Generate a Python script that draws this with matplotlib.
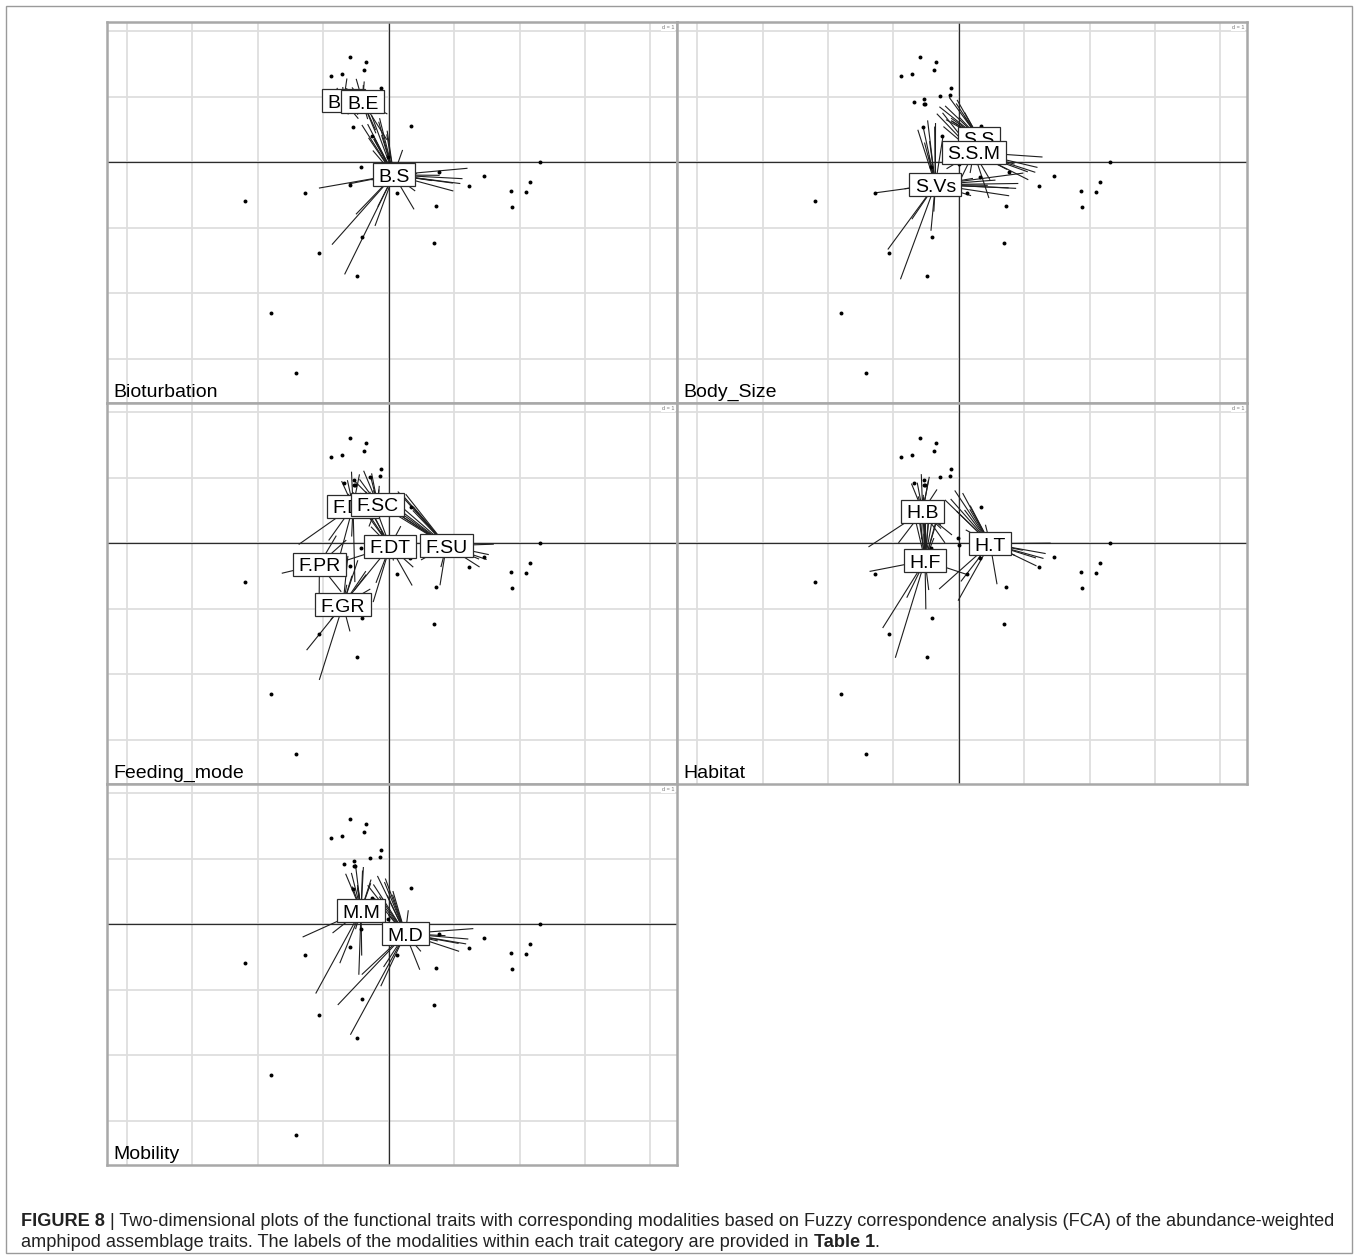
import matplotlib
matplotlib.use("Agg")
import matplotlib.pyplot as plt
from matplotlib.patches import Rectangle
from matplotlib import transforms

plt.rcParams['font.family'] = ['Liberation Sans', 'DejaVu Sans']

# species scores on FCA axes 1 and 2 (same cloud in every panel)
sp_x = [-0.592, -0.352, -0.378, -0.888, -0.714, -0.122, -0.133, -0.291, -0.684, -0.531,
        -0.531, -0.515, -0.551, -0.250, 0.342, 2.316, 0.776, 1.464, 1.230, 1.867,
        2.097, 2.163, 1.883, 0.719, 0.689, 0.332, 0.122, -1.281, -2.194, -0.403,
        -1.066, -0.490, -1.801, -1.418, -0.429, -0.587, -0.010, 0.000]
sp_y = [1.607, 1.526, 1.418, 1.321, 1.347, 1.143, 1.031, 1.010, 0.929, 0.974,
        0.898, 0.888, 0.541, 0.408, 0.556, 0.010, -0.153, -0.204, -0.362, -0.439,
        -0.454, -0.306, -0.679, -0.673, -1.230, -0.224, -0.464, -0.464, -0.592, -1.148,
        -1.383, -1.735, -2.311, -3.219, -0.066, -0.342, 0.077, -0.026]

# Bioturbation
bio_mod = ["B.D", "B.E", "B.S"]
bio_x = [-0.689, -0.398, 0.077]
bio_y = [0.939, 0.929, -0.194]
bio_sp = [[0, 3, 4, 9, 12, 13],
          [0, 1, 2, 3, 4, 5, 6, 7, 8, 9, 10, 11, 12, 13, 14, 25, 36, 37],
          [0, 1, 2, 3, 4, 5, 6, 7, 8, 9, 10, 11, 12, 13, 14, 15, 16, 17, 18, 19, 20,
           21, 22, 23, 24, 25, 26, 27, 28, 29, 30, 31, 32, 33, 34, 35]]

# Body size
size_mod = ["S.S", "S.S.M", "S.Vs"]
size_x = [0.311, 0.230, -0.357]
size_y = [0.367, 0.153, -0.342]
size_sp = [[0, 1, 2, 3, 4, 5, 6, 7, 8, 9, 10, 11],
           [3, 4, 8, 13, 14, 15, 16, 17, 18, 19, 20, 21, 22, 23, 24, 25, 26, 29, 34, 35],
           [0, 1, 2, 3, 4, 5, 8, 9, 12, 15, 16, 17, 18, 19, 20, 21, 22, 23, 25, 26,
            27, 28, 29, 30, 31, 32, 33, 35]]

# Feeding mode
feed_mod = ["F.DF", "F.SC", "F.DT", "F.SU", "F.PR", "F.GR"]
feed_x = [-0.545, -0.168, 0.020, 0.882, -1.060, -0.699]
feed_y = [0.566, 0.596, -0.046, -0.037, -0.321, -0.943]
feed_sp = [[0, 1, 3, 4, 8, 9, 10, 11, 12, 27, 28, 30, 31, 35],
           [0, 1, 2, 3, 4, 5, 6, 7, 8, 9, 10, 11, 12, 13, 14, 34],
           [0, 3, 4, 8, 9, 12, 13, 14, 16, 23, 24, 25, 26, 27, 29, 30, 31, 34, 35, 36, 37],
           [0, 1, 2, 3, 4, 5, 6, 8, 9, 10, 11, 15, 16, 17, 18, 19, 20, 21, 22, 23, 24, 25, 26],
           [12, 13, 27, 28, 29, 30, 34, 35],
           [12, 13, 26, 29, 30, 31, 32, 33, 34, 35, 36, 37]]

# Habitat
hab_mod = ["H.B", "H.F", "H.T"]
hab_x = [-0.551, -0.515, 0.480]
hab_y = [0.490, -0.265, -0.005]
hab_sp = [[0, 1, 2, 3, 4, 5, 8, 9, 10, 11, 13, 25, 26, 27, 28, 35, 36, 37],
          [0, 1, 2, 3, 4, 5, 6, 7, 8, 9, 10, 11, 12, 13, 23, 26, 28, 29, 30, 31,
           32, 33, 34, 35],
          [0, 1, 3, 4, 5, 6, 7, 9, 13, 14, 15, 16, 17, 18, 19, 20, 21, 22, 24, 25,
           26, 29, 30, 31, 36, 37]]

# Mobility
mob_mod = ["M.M", "M.D"]
mob_x = [-0.423, 0.255]
mob_y = [0.209, -0.143]
mob_sp = [[0, 1, 2, 3, 4, 5, 6, 8, 9, 10, 11, 12, 13, 27, 28, 29, 30, 31, 32, 34, 35],
          [0, 1, 2, 3, 4, 5, 6, 7, 8, 9, 13, 14, 15, 16, 17, 18, 19, 20, 21, 22, 23,
           24, 25, 26, 29, 30, 31, 32, 33, 36, 37]]

panels = [("Bioturbation", bio_mod, bio_x, bio_y, bio_sp),
          ("Body_Size", size_mod, size_x, size_y, size_sp),
          ("Feeding_mode", feed_mod, feed_x, feed_y, feed_sp),
          ("Habitat", hab_mod, hab_x, hab_y, hab_sp),
          ("Mobility", mob_mod, mob_x, mob_y, mob_sp)]

W, H = 1358, 1257
fig = plt.figure(figsize=(W / 100, H / 100), dpi=100)
renderer = fig.canvas.get_renderer()

ppu = 65.4          # pixels per grid unit (d = 1)
pw, ph = 570, 381   # panel size in pixels
ox, oy = 281.7, 140.3  # origin offset from panel top-left
xlim = (-ox / ppu, (pw - ox) / ppu)
ylim = ((oy - ph) / ppu, oy / ppu)
pos = [(107, 22), (677, 22), (107, 403), (677, 403), (107, 784)]

for k, (name, mods, cx, cy, mem) in enumerate(panels):
    L, T = pos[k]
    ax = fig.add_axes([L / W, 1 - (T + ph) / H, pw / W, ph / H])
    ax.set_xlim(xlim)
    ax.set_ylim(ylim)
    ax.set_xticks([])
    ax.set_yticks([])
    for g in range(-4, 5):
        ax.axvline(g, color='#dedede', lw=1.3, zorder=0)
    for g in range(-3, 3):
        ax.axhline(g, color='#dedede', lw=1.3, zorder=0)
    ax.axvline(0, color='#2b2b2b', lw=0.9, zorder=1)
    ax.axhline(0, color='#2b2b2b', lw=0.9, zorder=1)
    for s in ax.spines.values():
        s.set_color('#a8a8a8')
        s.set_linewidth(1.8)

    # stars: half way from each modality centroid towards its species
    for j in range(len(mods)):
        for i in mem[j]:
            ax.plot([cx[j], cx[j] + 0.5 * (sp_x[i] - cx[j])],
                    [cy[j], cy[j] + 0.5 * (sp_y[i] - cy[j])],
                    color='#1e1e1e', lw=0.8, zorder=2)
    ax.scatter(sp_x, sp_y, s=8, c='black', linewidths=0, zorder=3)

    # boxed labels
    tr = transforms.offset_copy(ax.transData, fig=fig, x=0, y=-7, units='dots')
    for j, lab in enumerate(mods):
        t = ax.text(cx[j], cy[j], lab, transform=tr, ha='center', va='baseline',
                    fontsize=14, zorder=6 + 2 * j)
        bb = t.get_window_extent(renderer=renderer)
        wpx = bb.width + 11
        hpx = 23
        ax.add_patch(Rectangle((cx[j] - wpx / 2 / ppu, cy[j] - hpx / 2 / ppu),
                               wpx / ppu, hpx / ppu, facecolor='white',
                               edgecolor='#2b2b2b', lw=0.9, zorder=5 + 2 * j))

    ax.text(0.0105, 0.017, name, transform=ax.transAxes, ha='left', va='baseline',
            fontsize=14, zorder=20)
    ax.text(0.995, 0.992, "d = 1", transform=ax.transAxes, ha='right', va='top',
            fontsize=4, color='#777777', zorder=20,
            bbox=dict(facecolor='white', edgecolor='none', pad=0.6))

# outer frame
fig.patches.append(Rectangle((6 / W, 1 - 1253 / H), 1346 / W, 1247 / H,
                             transform=fig.transFigure, fill=False,
                             edgecolor='#9a9a9a', lw=1))

# caption
cap_font = ['Liberation Sans Narrow', 'Liberation Sans', 'DejaVu Sans']
line1 = [("FIGURE 8", 'bold'),
         (" | Two-dimensional plots of the functional traits with corresponding modalities "
          "based on Fuzzy correspondence analysis (FCA) of the abundance-weighted", 'normal')]
line2 = [("amphipod assemblage traits. The labels of the modalities within each trait "
          "category are provided in ", 'normal'),
         ("Table 1", 'bold'),
         (".", 'normal')]


def put_line(pieces, x0, base, fs):
    x = x0
    for txt, wt in pieces:
        t = fig.text(x / W, 1 - base / H, txt, fontsize=fs, fontweight=wt,
                     family=cap_font, ha='left', va='baseline', color='#222222')
        bb = t.get_window_extent(renderer=renderer)
        x += bb.width
    return x


# size the caption so that the first line spans the text block
probe = 10
width = 0
for txt, wt in line1:
    t = fig.text(0, 0, txt, fontsize=probe, fontweight=wt, family=cap_font)
    width += t.get_window_extent(renderer=renderer).width
    t.remove()
cap_fs = probe * 1318 / width

put_line(line1, 21, 1226, cap_fs)
put_line(line2, 21, 1247, cap_fs)

fig.savefig("out.png", dpi=100)
